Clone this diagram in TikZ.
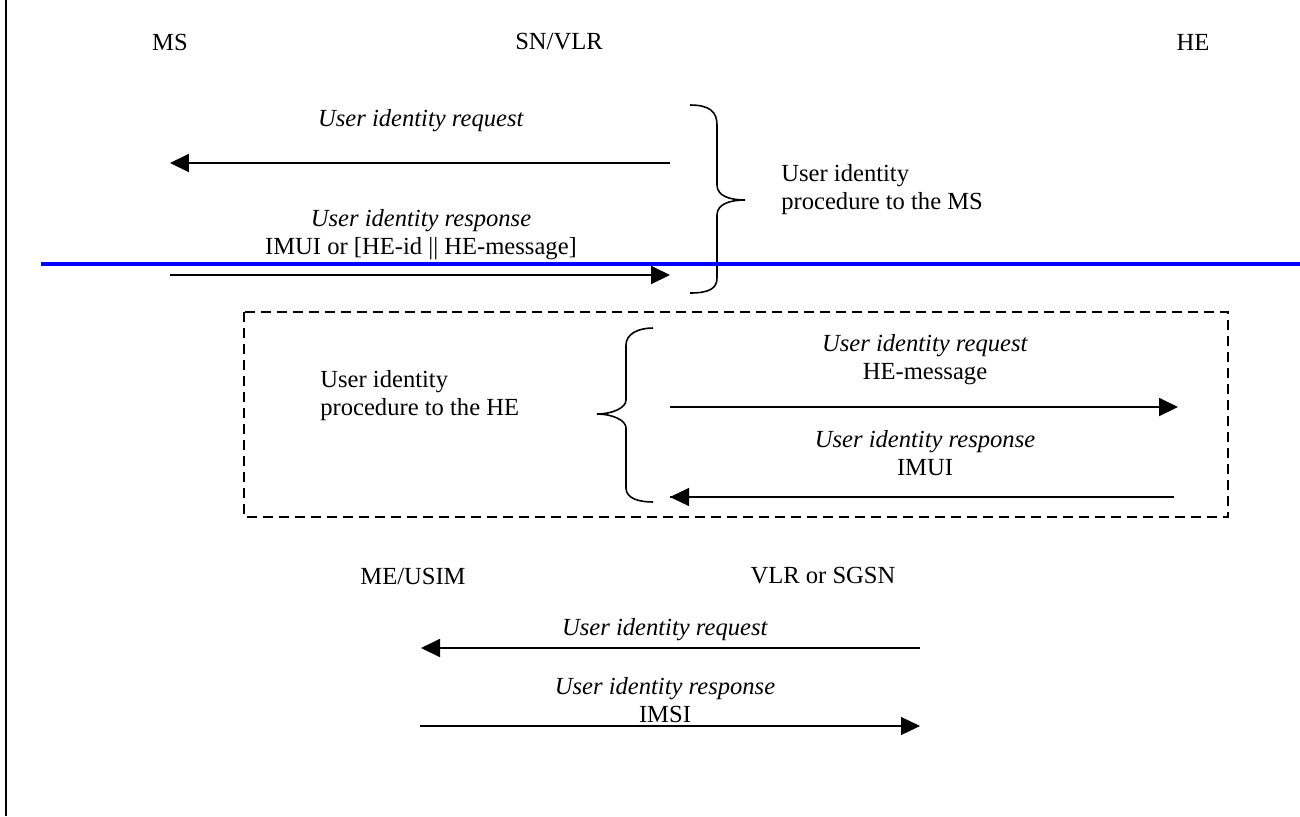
\documentclass[tikz,border=0pt]{standalone}
\usepackage{fontspec}
\setmainfont{Liberation Serif}
\usetikzlibrary{arrows.meta}
\tikzset{
  msg/.style={-{Triangle[length=3.8mm,width=3.6mm]}, line width=1.1pt},
  thinmsg/.style={-{Triangle[length=3.8mm,width=3.6mm]}, line width=0.7pt},
  txt/.style={inner sep=0pt, align=center},
  brace/.style={line width=0.9pt}
}
\begin{document}
\begin{tikzpicture}[x=0.02cm,y=-0.02cm,font=\fontsize{14}{16}\selectfont]
  %%%%% START %%%%%
  \useasboundingbox (0,0) rectangle (1300,816);

  \draw[line width=1.5pt] (6,0) -- (6,816);

  % entities
  \node[txt] (ms) at (170,42) {MS};
  \node[txt] (sn) at (559,42) {SN/VLR};
  \node[txt] (he) at (1193,42) {HE};

  % procedure to the MS
  \coordinate (snA) at (670,163);
  \coordinate (msA) at (170,163);
  \coordinate (msB) at (170,275);
  \coordinate (snB) at (670,275);
  \draw[msg] (snA) -- (msA);
  \draw[msg] (msB) -- (snB);
  \node[txt] (reqMS) at (421,121) {\textit{User identity request}};
  \node[txt] (respMS) at (421,235) {\textit{User identity response}\\IMUI or [HE-id || HE-message]};

  \draw[brace] (690,105) .. controls (710,105) and (717,112) .. (717,125)
    -- (717,185) .. controls (717,196) and (730,200) .. (745,200)
    .. controls (730,200) and (717,204) .. (717,215)
    -- (717,278) .. controls (717,288) and (710,293) .. (690,293);
  \node[txt, align=left, anchor=west] (procMS) at (781,190) {User identity\\procedure to the MS};

  \draw[blue, line width=1.9pt] (41,264) -- (1300,264);

  % procedure to the HE
  \draw[dash pattern=on 0.2cm off 0.12cm, line width=1.2pt] (244,312) rectangle (1228,517);
  \draw[brace] (653,328) .. controls (638,328) and (626,334) .. (626,345)
    -- (626,400) .. controls (626,408) and (612,414) .. (597,414)
    .. controls (612,414) and (626,420) .. (626,428)
    -- (626,488) .. controls (626,498) and (638,502) .. (653,502);
  \node[txt, align=left, anchor=west] (procHE) at (320,396) {User identity\\procedure to the HE};

  \coordinate (snC) at (670,407);
  \coordinate (heC) at (1178,407);
  \coordinate (heD) at (1174,497);
  \coordinate (snD) at (670,497);
  \draw[msg] (snC) -- (heC);
  \draw[thinmsg] (heD) -- (snD);
  \draw[line width=1.1pt] (snD) -- ++(55,0);
  \draw[line width=1.1pt] (heD) -- ++(-54,0);
  \node[txt] (reqHE) at (925,360) {\textit{User identity request}\\HE-message};
  \node[txt] (respHE) at (925,453) {\textit{User identity response}\\IMUI};

  % ME/USIM and VLR or SGSN
  \node[txt] (me) at (413,576) {ME/USIM};
  \node[txt] (vlr) at (823,576) {VLR or SGSN};
  \coordinate (vlrE) at (920,648);
  \coordinate (meE) at (421,648);
  \coordinate (meF) at (420,726);
  \coordinate (vlrF) at (920,726);
  \draw[msg] (vlrE) -- (meE);
  \draw[thinmsg] (meF) -- (vlrF);
  \draw[line width=1.1pt] (meF) -- ++(17,0);
  \node[txt] (reqME) at (665,630) {\textit{User identity request}};
  \node[txt] (respME) at (665,700) {\textit{User identity response}\\IMSI};
  %%%%% END %%%%%
\end{tikzpicture}
\end{document}
